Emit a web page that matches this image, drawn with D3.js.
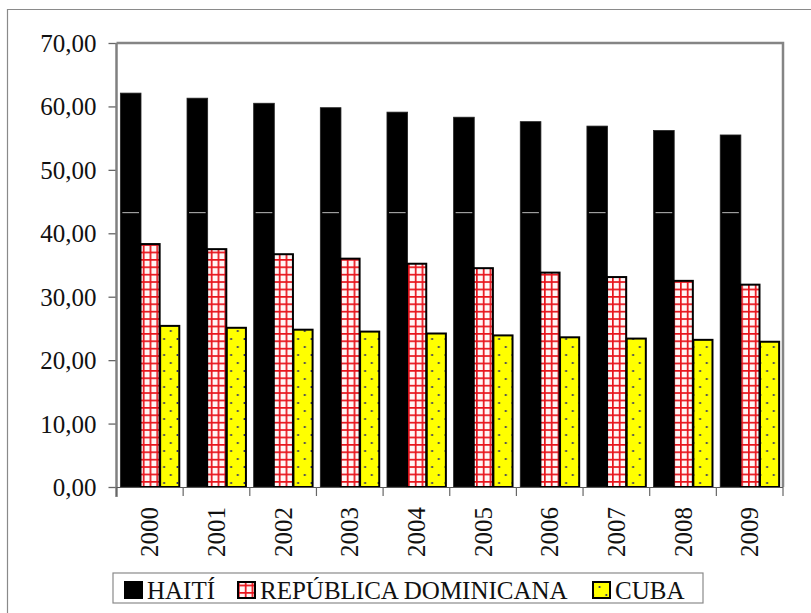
<!DOCTYPE html>
<html><head><meta charset="utf-8">
<script src="https://cdn.jsdelivr.net/npm/d3@7"></script>
</head><body style="margin:0"><svg id="c" width="811" height="613" font-family="Liberation Serif"></svg>
<script>
const years = ["2000","2001","2002","2003","2004","2005","2006","2007","2008","2009"];
const seriesNames = ["HAITÍ","REPÚBLICA DOMINICANA","CUBA"];
const haiti = [62.1, 61.3, 60.5, 59.8, 59.1, 58.3, 57.6, 56.9, 56.2, 55.5];
const repDom = [38.3, 37.5, 36.7, 36.0, 35.2, 34.5, 33.8, 33.1, 32.5, 31.9];
const cuba = [25.4, 25.1, 24.8, 24.5, 24.2, 23.9, 23.6, 23.4, 23.2, 22.9];
const yTicks = [0,10,20,30,40,50,60,70];
const haitiMark = 43.25;

const svg = d3.select("#c");
const L = 116.5, R = 783, T = 43, B = 487;
function serif(sel) {
  sel.attr("font-family","Liberation Serif")
     .style("font-family",'"Liberation Serif"')
     .attr("font-size",25).attr("fill","#111");
}

const defs = svg.append("defs");
const pg = defs.append("pattern").attr("id","grid").attr("patternUnits","userSpaceOnUse")
  .attr("width",6.8).attr("height",7.4);
pg.append("rect").attr("width",6.8).attr("height",7.4).attr("fill","#fff6f6");
pg.append("rect").attr("x",0).attr("y",0).attr("width",1.7).attr("height",7.4).attr("fill","#e8141c");
pg.append("rect").attr("x",0).attr("y",0).attr("width",6.8).attr("height",1.7).attr("fill","#e8141c");
const pd = defs.append("pattern").attr("id","dots").attr("patternUnits","userSpaceOnUse")
  .attr("width",13.4).attr("height",16);
pd.append("rect").attr("width",13.4).attr("height",16).attr("fill","#ffff00");
pd.append("circle").attr("cx",3.3).attr("cy",3).attr("r",1).attr("fill","#1a1a70");
pd.append("circle").attr("cx",10).attr("cy",11).attr("r",1).attr("fill","#1a1a70");

// outer frame
svg.append("path").attr("d",`M7.5,613 V9.5 H811`).attr("fill","none").attr("stroke","#8a8a8a").attr("stroke-width",1.2);

const y = d3.scaleLinear().domain([0,70]).range([B,T]);
const x0 = d3.scaleBand().domain(years).range([L,R]).paddingInner(0.116).paddingOuter(0.058);
const x1 = d3.scaleBand().domain(seriesNames).range([0,x0.bandwidth()]);
const xg = d3.scaleBand().domain(years).range([L,R]);

const data = years.map((yr,i)=>({year:yr, vals:[haiti[i],repDom[i],cuba[i]]}));
const fills = ["#000","url(#grid)","url(#dots)"];

// plot frame top & right
svg.append("path").attr("d",`M${L},${T} H${R} V${B}`).attr("fill","none").attr("stroke","#858585").attr("stroke-width",2.5);

const g = svg.append("g");
data.forEach(d=>{
  d.vals.forEach((v,k)=>{
    g.append("rect")
      .attr("x", x0(d.year)+x1(seriesNames[k]) + (k===0?0:0.5))
      .attr("y", y(v))
      .attr("width", x1.bandwidth() + (k===0?1:-0.5))
      .attr("height", y(0)-y(v))
      .attr("fill", fills[k])
      .attr("stroke", k===0 ? "#222" : "#000")
      .attr("stroke-width", k===0 ? 0.8 : 2);
  });
  g.append("line")
    .attr("x1", x0(d.year)+x1(seriesNames[0])+2).attr("x2", x0(d.year)+x1(seriesNames[0])+x1.bandwidth()-1)
    .attr("y1", y(haitiMark)).attr("y2", y(haitiMark))
    .attr("stroke","#bbb").attr("stroke-width",1);
});

// y axis
const ya = svg.append("g").attr("transform",`translate(${L},0)`)
  .call(d3.axisLeft(y).tickValues(yTicks).tickSize(8).tickPadding(12)
    .tickFormat(d=>d3.format(".2f")(d).replace(".",",")));
ya.attr("font-family","Liberation Serif").attr("font-size",25);
ya.select(".domain").remove();
ya.selectAll(".tick line").attr("stroke","#666").attr("stroke-width",1.3);
ya.selectAll(".tick text").call(serif).attr("dy","0.34em");
svg.append("line").attr("x1",L).attr("x2",L).attr("y1",T).attr("y2",B+10).attr("stroke","#808080").attr("stroke-width",2.5);

// x axis
svg.append("line").attr("x1",L).attr("x2",R).attr("y1",B+0.5).attr("y2",B+0.5).attr("stroke","#555").attr("stroke-width",1.2);
const edges = years.map(yr=>xg(yr)).concat([R]);
svg.selectAll(".xt").data(edges).enter().append("line")
  .attr("x1",d=>d).attr("x2",d=>d).attr("y1",B).attr("y2",B+9).attr("stroke","#666").attr("stroke-width",1.2);
svg.selectAll(".xl").data(years).enter().append("text")
  .attr("transform",d=>`translate(${xg(d)+xg.bandwidth()/2},507) rotate(-90)`)
  .attr("text-anchor","end").attr("dy","0.34em")
  .call(serif)
  .text(d=>d);

// legend
const lg = svg.append("g");
lg.append("rect").attr("x",113).attr("y",573).attr("width",590).attr("height",30)
  .attr("fill","#fff").attr("stroke","#8a8a8a").attr("stroke-width",1.2);
const legX = [125, 238, 593];
seriesNames.forEach((n,k)=>{
  lg.append("rect").attr("x",legX[k]).attr("y",582).attr("width",17).attr("height",16)
    .attr("fill",fills[k]).attr("stroke","#000").attr("stroke-width",2);
  lg.append("text").attr("x",legX[k]+22).attr("y",599).call(serif).text(n);
});
</script></body></html>
